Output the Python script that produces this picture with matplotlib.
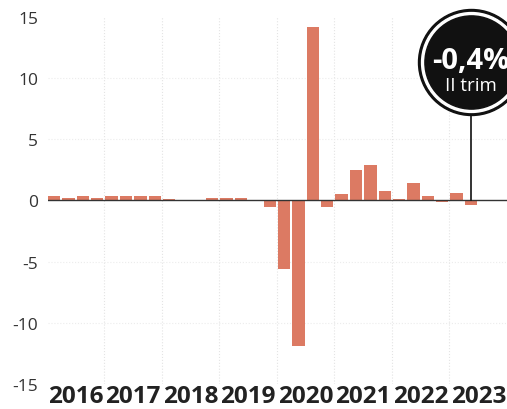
import matplotlib
matplotlib.use("Agg")
import matplotlib.pyplot as plt
import matplotlib.transforms as mtransforms

plt.rcParams['font.family'] = ['Open Sans', 'DejaVu Sans']
plt.rcParams['axes.unicode_minus'] = False

# quarterly GDP change (%), 2016 Q1 .. 2023 Q2
years = ['2016', '2017', '2018', '2019', '2020', '2021', '2022', '2023']
gdp = [0.4, 0.2, 0.4, 0.2,
       0.4, 0.4, 0.4, 0.4,
       0.1, 0.05, 0.05, 0.2,
       0.2, 0.2, 0.05, -0.5,
       -5.6, -11.9, 14.2, -0.5,
       0.5, 2.5, 2.9, 0.8,
       0.1, 1.4, 0.4, -0.1,
       0.65, -0.4]
yticks = [15, 10, 5, 0, -5, -10, -15]
callout_value = '-0,4%'
callout_label = 'II trim'

bar_color = '#dc7a63'
x = list(range(len(gdp)))

fig = plt.figure(figsize=(5.07, 4.10), dpi=100)
ax = fig.add_axes([48 / 507, 1 - 385 / 410, 1 - 48 / 507, (385 - 18) / 410])

ax.bar(x, gdp, width=0.86, color=bar_color, zorder=2)
ax.axhline(0, color='#333333', lw=1.0, zorder=3)

# faint grid at year boundaries and every 5 points
for b in range(1, len(years)):
    ax.axvline(4 * b - 0.5, color='#e4e4e4', lw=0.8, ls=':', zorder=1)
for t in [10, 5, -5, -10]:
    ax.axhline(t, color='#ececec', lw=0.8, ls=':', zorder=1)

ax.set_xlim(-0.42, 31.5)
ax.set_ylim(-15, 15)
ax.set_yticks(yticks)
ax.set_yticklabels([str(t) for t in yticks], fontsize=12.5, color='#333333')
ax.tick_params(axis='y', length=0, pad=7)
ax.set_xticks([])
for s in ax.spines.values():
    s.set_visible(False)

# year labels under each group of four quarters
trans = mtransforms.blended_transform_factory(ax.transData, ax.transAxes)
for i, yr in enumerate(years):
    ax.text(4 * i + 1.5, -0.033, yr, transform=trans, ha='center', va='center',
            fontsize=17.5, fontweight='bold', color='#222222', clip_on=False)

# callout on the last quarter
last = len(gdp) - 1
cy = 11.3
ax.plot([last, last], [0, cy], color='#111111', lw=1.2, zorder=4, clip_on=False)
r_out = 53 * 0.72
ax.scatter([last], [cy], s=(2 * r_out) ** 2, color='#111111', zorder=5, clip_on=False)
ax.scatter([last], [cy], s=(2 * (r_out - 2.2)) ** 2, color='white', zorder=6, clip_on=False)
ax.scatter([last], [cy], s=(2 * (r_out - 4.6)) ** 2, color='#111111', zorder=7, clip_on=False)
ax.annotate(callout_value, (last, cy), xytext=(0, 1.5), textcoords='offset points',
            ha='center', va='center', fontsize=21, fontweight='bold', color='white',
            zorder=8, annotation_clip=False)
ax.annotate(callout_label, (last, cy), xytext=(0, -16.5), textcoords='offset points',
            ha='center', va='center', fontsize=13.5, color='white',
            zorder=8, annotation_clip=False)

fig.savefig('out.png', dpi=100)
